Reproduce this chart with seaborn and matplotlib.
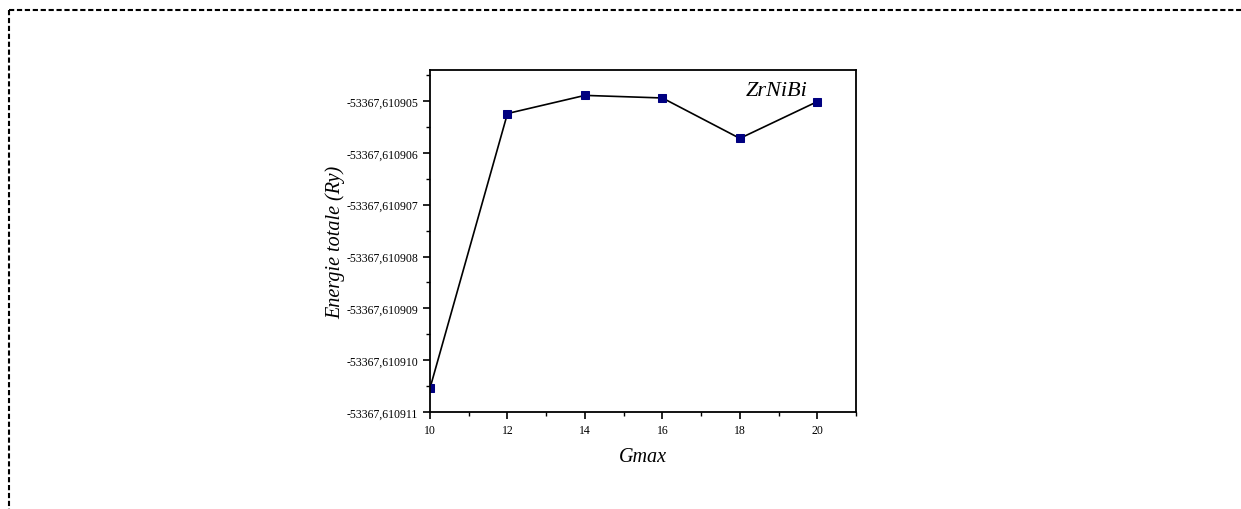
import matplotlib
matplotlib.use("Agg")
import matplotlib.pyplot as plt
import seaborn as sns
import numpy as np
from matplotlib.ticker import FuncFormatter, AutoMinorLocator, MultipleLocator
from matplotlib.lines import Line2D

# Data
gmax = [10, 12, 14, 16, 18, 20]
energy = [-53367.61091054, -53367.61090524, -53367.61090489,
          -53367.61090494, -53367.61090572, -53367.61090501]
ytick_values = [-53367.610911, -53367.610910, -53367.610909, -53367.610908,
                -53367.610907, -53367.610906, -53367.610905]
xtick_values = [10, 12, 14, 16, 18, 20]
label_text = "ZrNiBi"

sns.set_theme(style="ticks")
plt.rcParams['font.family'] = ['Liberation Serif', 'DejaVu Serif']
plt.rcParams['text.color'] = 'black'
plt.rcParams['axes.labelcolor'] = 'black'

fig = plt.figure(figsize=(12.41, 5.10), dpi=100)
ax = fig.add_axes([0.3465, 0.1902, 0.6898 - 0.3465, 0.8608 - 0.1902])

sns.lineplot(x=gmax, y=energy, ax=ax, color='black', linewidth=1.2,
             marker='s', markersize=5.5, markerfacecolor='#000080',
             markeredgecolor='#000080', estimator=None)

ax.set_xlim(10, 21)
ax.set_ylim(-53367.610911, -53367.6109044)
ax.set_xticks(xtick_values)
ax.xaxis.set_minor_locator(MultipleLocator(1))
ax.set_yticks(ytick_values)
ax.yaxis.set_minor_locator(AutoMinorLocator(2))
ax.yaxis.set_major_formatter(FuncFormatter(lambda v, p: f"{v:.6f}".replace('.', ',')))

ax.tick_params(which='major', direction='out', length=5, width=1.2, labelsize=8.5,
               colors='black', labelcolor='black')
ax.tick_params(which='minor', direction='out', length=3, width=1.0, colors='black')
for s in ax.spines.values():
    s.set_visible(True)
    s.set_linewidth(1.3)
    s.set_color('black')

ax.set_xlabel("Gmax", fontsize=14.5, style='italic', labelpad=8, color='black')
ax.set_ylabel("Energie totale (Ry)", fontsize=14.5, style='italic', labelpad=1, color='black')
ax.text(0.887, 0.94, label_text, transform=ax.transAxes, ha='right', va='center',
        fontsize=16, style='italic', color='black')

# dashed frame (top and left visible)
x0 = 9 / 1241
y0 = 1 - 11 / 510
fig.add_artist(Line2D([x0, 1.0], [y0, y0], transform=fig.transFigure, color='black',
                      linewidth=1.5, linestyle=(0, (2.5, 1.3))))
fig.add_artist(Line2D([x0, x0], [y0, 0.0], transform=fig.transFigure, color='black',
                      linewidth=1.5, linestyle=(0, (2.5, 1.3))))

fig.savefig("out.png", dpi=100, facecolor='white')
